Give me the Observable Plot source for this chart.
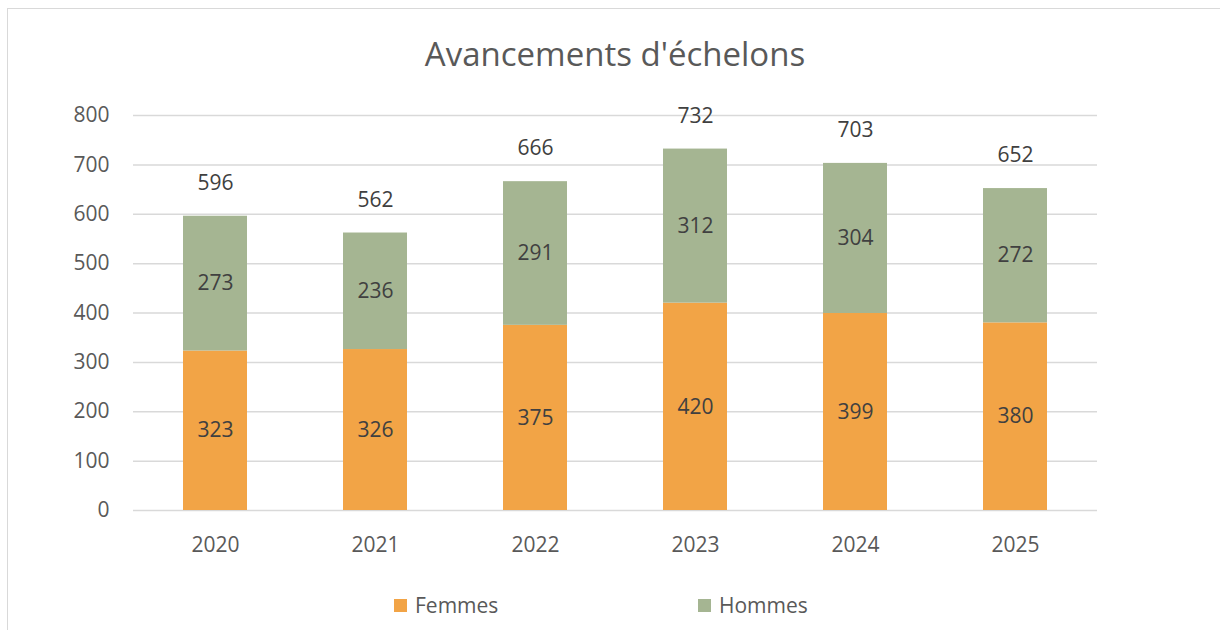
<!DOCTYPE html>
<html>
<head>
<meta charset="utf-8">
<script src="https://cdn.jsdelivr.net/npm/d3@7"></script>
<script src="https://cdn.jsdelivr.net/npm/@observablehq/plot@0.6"></script>
<style>
  html, body { margin: 0; padding: 0; background: #fff; width: 1220px; height: 630px; overflow: hidden; }
  #frame { position: absolute; left: 7px; top: 8px; width: 1260px; height: 680px; border: 1.5px solid #d9d9d9; box-sizing: border-box; }
  #title { position: absolute; left: 0; width: 1230px; top: 31px; text-align: center; font-family: "Open Sans", sans-serif; font-size: 33px; color: #595959; line-height: 46px; }
  #chart { position: absolute; left: 0; top: 0; }
  #legend { position: absolute; top: 590px; left: 0; width: 1220px; height: 30px; font-family: "Open Sans", sans-serif; font-size: 21px; color: #595959; }
  .item { position: absolute; top: 0; display: flex; align-items: center; height: 30px; }
  .sw { width: 13px; height: 13px; margin-right: 8px; }
</style>
</head>
<body>
<div id="frame"></div>
<div id="chart"></div>
<div id="title">Avancements d'échelons</div>
<div id="legend"></div>
<script>
const years = ["2020", "2021", "2022", "2023", "2024", "2025"];
const femmes = [323, 326, 375, 420, 399, 380];
const hommes = [273, 236, 291, 312, 304, 272];
const totals = [596, 562, 666, 732, 703, 652];
const series = ["Femmes", "Hommes"];
const colors = ["#F2A446", "#A5B592"];
const yTicks = [0, 100, 200, 300, 400, 500, 600, 700, 800];

const rows = [];
years.forEach((y, i) => {
  rows.push({year: y, sex: "Femmes", value: femmes[i]});
  rows.push({year: y, sex: "Hommes", value: hommes[i]});
});
const totalRows = years.map((y, i) => ({year: y, total: totals[i]}));

const font = "'Open Sans', sans-serif";
const plot = Plot.plot({
  width: 1220,
  height: 630,
  marginLeft: 133,
  marginRight: 123,
  marginTop: 115,
  marginBottom: 120,
  style: {fontFamily: font, fontSize: "21px", color: "#595959", background: "transparent", overflow: "visible"},
  x: {domain: years, paddingInner: 0.6, paddingOuter: 0.3, label: null, tickSize: 0, tickPadding: 27},
  y: {domain: [0, 800], ticks: yTicks, label: null, tickSize: 0, tickPadding: 24},
  color: {domain: series, range: colors},
  marks: [
    Plot.ruleY(yTicks, {stroke: "#d9d9d9", strokeWidth: 1.5}),
    Plot.barY(rows, Plot.stackY({x: "year", y: "value", z: "sex", fill: "sex", order: series})),
    Plot.text(rows, Plot.stackY({x: "year", y: "value", z: "sex", order: series, text: d => String(d.value), fill: "#404040", fontSize: 21})),
    Plot.text(totalRows, {x: "year", y: "total", text: d => String(d.total), dy: -33, fill: "#404040", fontSize: 21}),
    Plot.axisX({tickSize: 0, tickPadding: 27, fill: "#595959", fontSize: 21}),
    Plot.axisY({ticks: yTicks, tickSize: 0, tickPadding: 24, fill: "#595959", fontSize: 21})
  ]
});
document.getElementById("chart").appendChild(plot);

const legend = document.getElementById("legend");
const legendX = [394, 698];
series.forEach((s, i) => {
  const item = document.createElement("div");
  item.className = "item";
  item.style.left = legendX[i] + "px";
  const sw = document.createElement("div");
  sw.className = "sw";
  sw.style.background = colors[i];
  const label = document.createElement("span");
  label.textContent = s;
  item.appendChild(sw);
  item.appendChild(label);
  legend.appendChild(item);
});
</script>
</body>
</html>
